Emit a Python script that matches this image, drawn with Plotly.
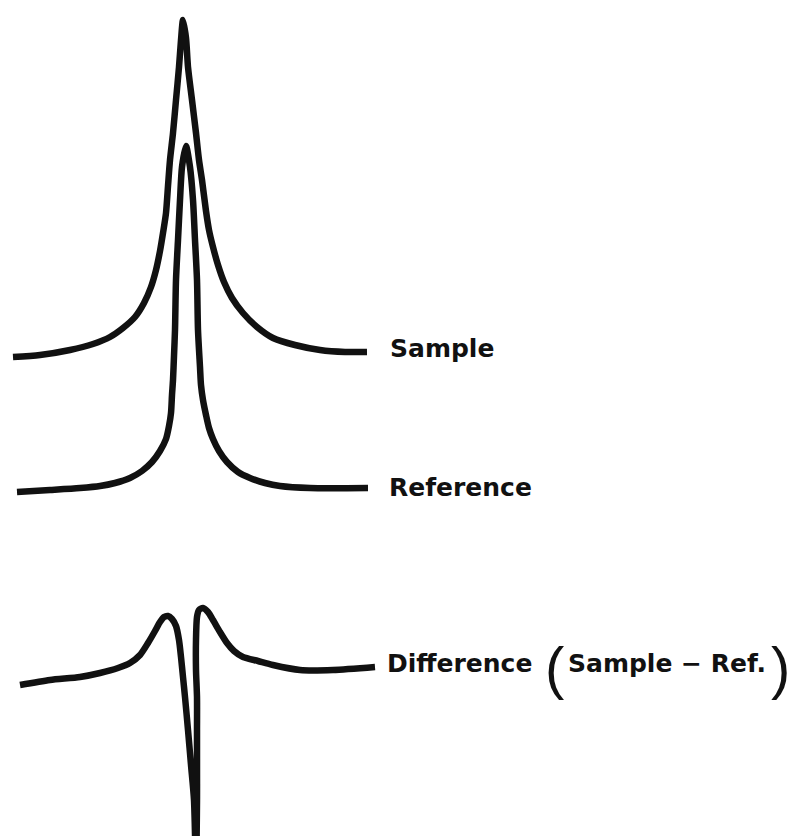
import plotly.graph_objects as go

sample_x = [13, 40, 70, 93, 110, 123, 135, 144, 151, 156, 160, 163, 166, 168, 170,
            173, 176, 179, 181, 183, 186, 188, 192, 196, 199, 202, 206, 209, 213,
            218, 224, 232, 243, 257, 273, 295, 320, 345, 367]
sample_y = [479, 481, 486, 492, 499, 508, 519, 533, 549, 566, 585, 603, 623, 650, 676,
            703, 736, 769, 796, 816, 798, 769, 736, 703, 676, 656, 625, 606, 589,
            571, 554, 538, 523, 509, 498, 491, 486, 484, 484]

reference_x = [17, 50, 80, 100, 115, 130, 142, 152, 160, 166, 169, 171, 172, 173,
               174, 175, 176, 178, 180, 182, 186, 190, 193, 195, 197, 198, 200, 201,
               203, 206, 209, 213, 219, 227, 238, 250, 265, 280, 310, 368]
reference_y = [344, 346, 348, 350, 353, 358, 365, 374, 385, 397, 410, 423, 441, 456,
               480, 506, 556, 596, 636, 669, 690, 669, 636, 596, 556, 506, 469, 451,
               436, 421, 408, 397, 385, 374, 364, 358, 353, 350, 348, 348]

difference_x = [20, 50, 80, 100, 118, 130, 140, 148, 155, 160, 164, 168, 172, 176,
                179, 181, 183, 185, 188, 191, 194, 196, 197, 197, 197, 197, 196, 196,
                197, 199, 203, 208, 213, 220, 227, 234, 243, 258, 273, 300, 333, 375]
difference_y = [151, 156, 159, 163, 168, 173, 181, 193, 205, 214, 219, 220, 217, 210,
                196, 179, 159, 139, 106, 71, 36, -34, 36, 71, 106, 139, 166, 196,
                219, 226, 228, 224, 216, 204, 193, 185, 179, 175, 171, 166, 166, 169]

labels = ["Sample", "Reference", "Difference"]
label_x = [388, 387, 385]
label_y = [488, 349, 173]

ink = "#111111"
fig = go.Figure()
for xs, ys in [(sample_x, sample_y), (reference_x, reference_y),
               (difference_x, difference_y)]:
    fig.add_trace(go.Scatter(x=xs, y=ys, mode="lines",
                             line=dict(color=ink, width=6.5, shape="spline", smoothing=0.7),
                             hoverinfo="skip", showlegend=False))

label_font = dict(family="DejaVu Sans", size=25, color=ink)
for t, x, y in zip(labels, label_x, label_y):
    fig.add_annotation(x=x, y=y, text=f"<b>{t}</b>", showarrow=False,
                       xanchor="left", yanchor="middle", font=label_font)

# "(Sample − Ref.)" with tall parentheses
paren_font = dict(family="Liberation Sans", size=58, color=ink)
fig.add_annotation(x=554, y=169, text="(", showarrow=False, xanchor="center",
                   yanchor="middle", font=paren_font)
fig.add_annotation(x=566, y=173, text="<b>Sample − Ref.</b>", showarrow=False,
                   xanchor="left", yanchor="middle", font=label_font)
fig.add_annotation(x=780, y=169, text=")", showarrow=False, xanchor="center",
                   yanchor="middle", font=paren_font)

fig.update_xaxes(range=[0, 789], visible=False)
fig.update_yaxes(range=[0, 836], visible=False)
fig.update_layout(width=789, height=836, margin=dict(l=0, r=0, t=0, b=0),
                  paper_bgcolor="white", plot_bgcolor="white")
fig.write_html("out.html")
